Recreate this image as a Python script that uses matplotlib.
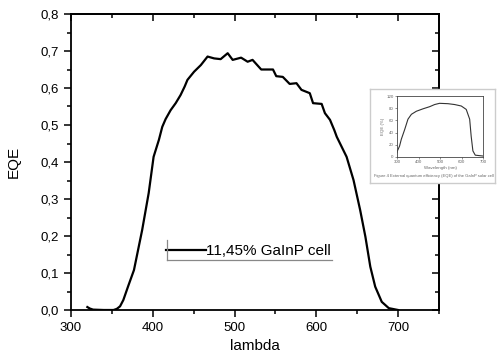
import matplotlib
matplotlib.use("Agg")
import matplotlib.pyplot as plt
from matplotlib.ticker import MultipleLocator, FuncFormatter
from matplotlib.lines import Line2D

plt.rcParams['font.family'] = ['Liberation Sans', 'DejaVu Sans']

# main EQE curve
lam = [320, 323, 327, 340, 352, 356, 360, 364, 370, 377, 387, 395, 401, 407.5,
       411.6, 415.7, 421.8, 428, 434, 439, 442.4, 450.5, 458.8, 467, 475, 483,
       491.6, 497.7, 508, 516, 522, 532.6, 547, 551, 559, 567.4, 575.7, 581.8,
       592, 596, 606.5, 610.5, 616.7, 622, 625, 637, 645.5, 653.6, 660, 666,
       672, 680, 688.6, 700]
eqe = [0.008, 0.004, 0.001, 0.0, 0.0, 0.003, 0.01, 0.027, 0.065, 0.108, 0.216,
       0.316, 0.414, 0.46, 0.495, 0.516, 0.54, 0.559, 0.581, 0.604, 0.622, 0.644,
       0.662, 0.685, 0.68, 0.678, 0.694, 0.676, 0.682, 0.671, 0.676, 0.65, 0.65,
       0.632, 0.63, 0.611, 0.613, 0.595, 0.586, 0.559, 0.557, 0.532, 0.514, 0.486,
       0.468, 0.414, 0.351, 0.27, 0.198, 0.117, 0.063, 0.022, 0.005, 0.0]

# small pasted figure on the right
ins_lam = [300, 301.5, 312, 320, 335.7, 351, 367, 390, 421, 452, 475, 498, 537,
           568, 599, 622, 638, 645, 653, 664, 700]
ins_eqe = [7, 9.8, 18, 29, 45, 62, 70, 75, 79, 82.5, 86, 88, 87.4, 86, 83.6, 78,
           62, 34, 10, 3, 1.6]

W, H = 497, 356
fig = plt.figure(figsize=(W / 100, H / 100), dpi=100)
ax = fig.add_axes([71 / W, 1 - 310 / H, 368 / W, 296 / H])

ax.plot(lam, eqe, color='black', lw=1.6, label='11,45% GaInP cell')
ax.set_xlim(300, 750)
ax.set_ylim(0, 0.8)

ax.xaxis.set_major_locator(MultipleLocator(100))
ax.xaxis.set_minor_locator(MultipleLocator(50))
ax.yaxis.set_major_locator(MultipleLocator(0.1))
ax.yaxis.set_minor_locator(MultipleLocator(0.05))
ax.yaxis.set_major_formatter(FuncFormatter(lambda v, p: ('%.1f' % v).replace('.', ',')))

for s in ax.spines.values():
    s.set_linewidth(1.3)
ax.tick_params(which='both', direction='out', width=1.1, labelsize=9.5)
ax.tick_params(which='major', length=5)
ax.tick_params(which='minor', length=3)

# top / right ticks pointing in, no labels
top = ax.secondary_xaxis('top')
right = ax.secondary_yaxis('right')
top.xaxis.set_major_locator(MultipleLocator(100))
top.xaxis.set_minor_locator(MultipleLocator(50))
right.yaxis.set_major_locator(MultipleLocator(0.1))
right.yaxis.set_minor_locator(MultipleLocator(0.05))
for sec in (top, right):
    sec.tick_params(which='both', direction='in', width=1.1,
                    labeltop=False, labelright=False)
    sec.tick_params(which='major', length=5)
    sec.tick_params(which='minor', length=3)
    for s in sec.spines.values():
        s.set_linewidth(1.3)

ax.set_xlabel('lambda', fontsize=11, labelpad=4)
ax.set_ylabel('EQE', fontsize=11, labelpad=14)

leg = ax.legend(loc='center left', bbox_to_anchor=(0.258, 0.199), frameon=False,
                fontsize=11, handlelength=2.6, handletextpad=0.0, borderpad=0,
                borderaxespad=0)
fig.add_artist(Line2D([167 / W, 167 / W], [1 - 240 / H, 1 - 260 / H],
                      transform=fig.transFigure, color='#888888', lw=0.9))
fig.add_artist(Line2D([167 / W, 332 / W], [1 - 260 / H, 1 - 260 / H],
                      transform=fig.transFigure, color='#888888', lw=0.9))

# pasted thumbnail
box = fig.add_axes([370 / W, 1 - 183 / H, 125 / W, 94 / H])
box.set_xticks([])
box.set_yticks([])
box.set_facecolor('white')
for s in box.spines.values():
    s.set_color('#cccccc')
    s.set_linewidth(1.0)

gc = '#666666'
ins = fig.add_axes([397 / W, 1 - 157 / H, 86 / W, 61 / H])
ins.plot(ins_lam, ins_eqe, color='#333333', lw=0.8)
ins.set_xlim(300, 700)
ins.set_ylim(0, 100)
ins.set_xticks([300, 400, 500, 600, 700])
ins.set_yticks([0, 20, 40, 60, 80, 100])
ins.set_yticklabels(['0', '20', '40', '60', '80', '120'])
ins.tick_params(labelsize=3.2, length=1.5, width=0.5, pad=1, colors=gc)
for s in ins.spines.values():
    s.set_linewidth(0.6)
    s.set_color('#444444')
ins.set_xlabel('Wavelength (nm)', fontsize=3.2, color=gc, labelpad=1)
ins.set_ylabel('EQE (%)', fontsize=3.2, color=gc, labelpad=1)
fig.text(374 / W, 1 - 176 / H,
         'Figure 4 External quantum efficiency (EQE) of the GaInP solar cell',
         fontsize=3.0, color=gc, va='center')

fig.savefig('out.png', dpi=100)
